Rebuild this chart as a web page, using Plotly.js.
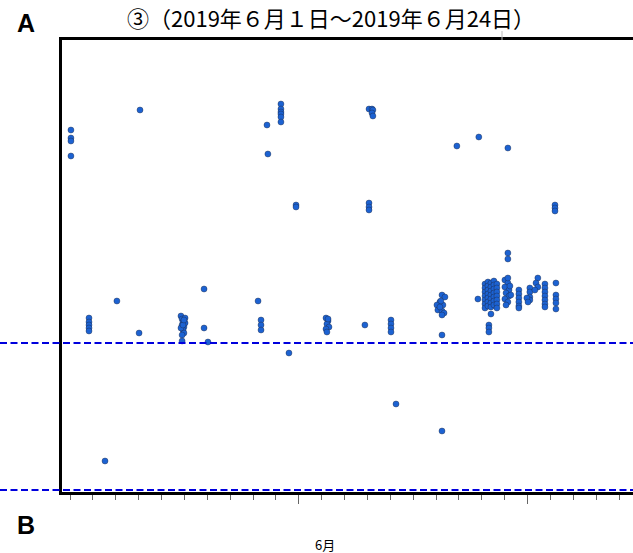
<!DOCTYPE html>
<html>
<head>
<meta charset="utf-8">
<script src="https://cdn.plot.ly/plotly-3.0.1.min.js"></script>
<style>html,body{margin:0;padding:0;background:#fff;}#chart{width:633px;height:553px;}</style>
</head>
<body>
<div id="chart"></div>
<script>
// ---- data (day of June, measured value) ----
const day = [
  1.04,1.04,1.04,1.04, 4.06,
  1.83,1.83,1.83,1.83,1.83, 2.53, 3.05, 4.02,
  5.85,5.90,5.94,5.90,5.98,5.94,6.03,5.98,5.85,6.03,5.90,5.94,5.98, 5.90,
  6.86,6.86, 7.03,
  9.22, 9.35,9.35,9.35, 9.61,9.65,
  10.22,10.22,10.22,10.22,10.22,10.22, 10.88,10.88,
  14.07,14.20,14.24,14.20,14.24, 14.07,14.07,14.07,
  10.57,
  12.19,12.28,12.23,12.32,12.19,12.23,12.28,
  13.89, 15.03,15.03,15.03,15.03, 15.25,
  17.26,17.39,17.17,17.04,17.30,17.08,17.26,17.35,17.26,17.21,17.17, 17.26, 17.26,
  17.91, 18.87, 20.14, 18.83,
  19.14,19.14,19.14,19.14,19.14,19.14,19.14,
  19.27,19.27,19.27,19.27,19.27,19.27,19.27,
  19.40,19.40,19.40,19.40,19.40,19.40,19.40,
  19.53,19.53,19.53,19.53,19.53,19.53,19.53,
  19.66,19.66,19.66,19.66,19.66,19.66,19.66,
  19.40, 19.31,19.31,19.31,
  20.14,20.14,
  20.01,20.14,20.01,20.19,20.06,20.19,20.01,20.14,20.23,20.27,20.06,20.14,
  20.62,20.62,20.62,20.62,20.62,20.62,
  21.10,21.10,21.10,21.10,20.97,21.02,
  21.45,21.37,21.45,21.32,
  21.76,21.76,21.76,21.76,21.76,21.76,21.76,
  22.24,22.24,22.24,22.24,22.24, 22.20,22.20,22.20
];
const value = [
  74.0,72.4,71.8,68.8, 78.0,
  36.4,35.6,35.0,34.4,33.8, 7.8, 39.8, 33.4,
  36.8,36.2,35.6,35.0,34.6,34.0,35.4,33.4,34.4,36.4,33.0,35.0,36.0, 31.8,
  42.2,34.4, 31.6,
  39.8, 36.0,35.0,34.0, 75.0,69.2,
  79.2,78.2,77.6,77.2,76.6,75.6, 59.0,58.6,
  78.2,78.2,78.0,77.4,76.8, 59.4,58.6,58.0,
  29.4,
  36.4,35.8,35.2,34.6,34.2,33.6,36.2,
  35.0, 36.0,35.2,34.4,33.6, 19.2,
  41.0,40.6,39.6,39.0,39.0,38.0,37.8,37.4,37.0,39.8,38.6, 33.0, 13.8,
  70.8, 72.6, 70.4, 40.2,
  43.2,42.4,41.6,40.8,40.0,39.2,38.4,
  43.6,42.8,42.0,41.2,40.4,39.6,38.8,
  43.4,42.6,41.8,41.0,40.2,39.4,38.6,
  43.8,43.0,42.2,41.4,40.6,39.8,39.0,
  43.2,42.4,41.6,40.8,40.0,39.2,38.4,
  37.2, 35.0,34.4,33.6,
  49.4,48.2,
  44.0,43.4,42.6,42.0,41.4,40.8,40.2,39.6,42.8,41.0,39.0,44.4,
  42.0,41.2,40.4,39.6,38.8,38.4,
  42.4,41.6,40.6,40.0,40.4,39.6,
  44.4,43.4,42.6,42.0,
  43.2,42.4,41.6,40.8,40.0,39.2,38.6,
  43.4,41.0,40.2,39.4,38.2, 59.0,58.4,57.8
];
const limitA = 31.4;
const limitB = 2.0;
const dayTicks = [1,2,3,4,5,6,7,8,9,10,11,12,13,14,15,16,17,18,19,20,21,22,23,24,25];
const majorTicks = [11, 21];
const monthLabel = '6月';
const titleText = '③（2019年６月１日～2019年６月24日）';

// ---- layout ----
const W = 633, H = 553;
const mL = 62, mT = 40, mB = 61, mR = 0;
const xRange = [0.65, 25.61];
const yRange = [1.6, 92];
const yp = v => (v - yRange[0]) / (yRange[1] - yRange[0]);
const plotW = W - mL - mR, plotH = H - mT - mB;

const trace = {
  type: 'scatter', mode: 'markers', x: day, y: value,
  marker: {size: 6, color: '#1c62d2', line: {color: 'rgba(30,40,70,0.7)', width: 0.6}},
  hoverinfo: 'x+y', cliponaxis: false
};

const dashed = v => ({type: 'line', xref: 'paper', yref: 'paper',
  x0: -mL / plotW, x1: 1, y0: yp(v), y1: yp(v),
  line: {color: '#0000dd', width: 2, dash: '7px,3.5px'}});

const layout = {
  width: W, height: H,
  margin: {l: mL, r: mR, t: mT, b: mB, pad: 0},
  paper_bgcolor: '#fff', plot_bgcolor: '#fff',
  showlegend: false,
  font: {family: 'Noto Sans CJK JP, sans-serif', color: '#000'},
  xaxis: {range: xRange, showgrid: false, zeroline: false,
    showline: true, linecolor: '#000', linewidth: 3, mirror: true,
    tickmode: 'array', tickvals: majorTicks, ticks: 'outside', ticklen: 9,
    tickcolor: '#666', tickwidth: 1, showticklabels: false,
    minor: {tickmode: 'array', tickvals: dayTicks, ticks: 'outside', ticklen: 5, tickcolor: '#666', tickwidth: 1}
  },
  yaxis: {range: yRange, showgrid: false, zeroline: false,
    showline: true, linecolor: '#000', linewidth: 3, mirror: false,
    ticks: '', showticklabels: false},
  shapes: [dashed(limitA), dashed(limitB),
    {type: 'line', xref: 'paper', yref: 'paper', x0: (502 - mL) / plotW, x1: (502 - mL) / plotW,
     y0: 1, y1: 1 + 9 / plotH, line: {color: '#bbb', width: 1}}],
  annotations: [
    {text: titleText, xref: 'paper', yref: 'paper', x: (331 - mL) / plotW, y: 1 + 23 / plotH,
     xanchor: 'center', yanchor: 'middle', showarrow: false,
     font: {size: 22, family: 'Noto Sans CJK JP', color: '#000'}},
    {text: '<b>A</b>', xref: 'paper', yref: 'paper', x: (26 - mL) / plotW, y: 1 + 17 / plotH,
     xanchor: 'center', yanchor: 'middle', showarrow: false,
     font: {size: 25, family: 'Liberation Sans, Arial', color: '#000'}},
    {text: '<b>B</b>', xref: 'paper', yref: 'paper', x: (26 - mL) / plotW, y: -(525 - (H - mB)) / plotH,
     xanchor: 'center', yanchor: 'middle', showarrow: false,
     font: {size: 25, family: 'Liberation Sans, Arial', color: '#000'}},
    {text: monthLabel, xref: 'x', yref: 'paper', x: 12.15, y: -(544 - (H - mB)) / plotH,
     xanchor: 'center', yanchor: 'middle', showarrow: false,
     font: {size: 13, family: 'Noto Sans CJK JP', color: '#000'}}
  ]
};

Plotly.newPlot('chart', [trace], layout, {displayModeBar: false, staticPlot: true});
</script>
</body>
</html>
